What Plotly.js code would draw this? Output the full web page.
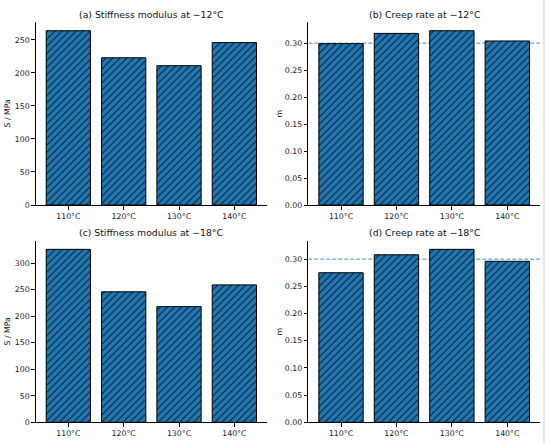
<!DOCTYPE html>
<html>
<head>
<meta charset="utf-8">
<script src="https://cdn.plot.ly/plotly-3.0.1.min.js"></script>
<style>html,body{margin:0;padding:0;background:#fff;}#chart{width:550px;height:443px;}</style>
</head>
<body>
<div id="chart"></div>
<script>
const categories = ['110°C', '120°C', '130°C', '140°C'];
const stiffness12 = [264, 223, 211, 246];
const creep12 = [0.299, 0.318, 0.323, 0.304];
const stiffness18 = [326, 246, 218, 259];
const creep18 = [0.275, 0.308, 0.318, 0.296];
const creepLimit = 0.30;
const panelTitles = ['(a) Stiffness modulus at \u221212°C', '(b) Creep rate at \u221212°C',
                     '(c) Stiffness modulus at \u221218°C', '(d) Creep rate at \u221218°C'];
const yLabels = ['S / MPa', 'm', 'S / MPa', 'm'];

const W = 550, H = 443;
const FONT = 'DejaVu Sans, sans-serif';
const px = v => v / W;
const py = v => 1 - v / H;

function barTrace(vals, xa, ya) {
  return {
    type: 'bar', x: categories, y: vals, xaxis: xa, yaxis: ya, width: 0.8,
    marker: {
      color: '#1f77b4',
      line: {color: '#000', width: 1},
      pattern: {shape: '/', fgcolor: '#101820', bgcolor: '#1f77b4', size: 5, solidity: 0.2}
    },
    hoverinfo: 'skip', showlegend: false
  };
}

const data = [
  barTrace(stiffness12, 'x', 'y'),
  barTrace(creep12, 'x2', 'y2'),
  barTrace(stiffness18, 'x3', 'y3'),
  barTrace(creep18, 'x4', 'y4')
];

const colsX = [[35.7, 267], [308.3, 540]];
const rowsY = [[22, 205], [240.7, 422.3]];

function xaxis(col, anchor) {
  return {
    domain: [px(colsX[col][0]), px(colsX[col][1])], anchor: anchor,
    type: 'category', range: [-0.59, 3.59],
    showline: true, linecolor: '#000', linewidth: 1, mirror: false,
    ticks: 'outside', ticklen: 3.5, tickwidth: 1, tickcolor: '#000',
    showgrid: false, zeroline: false,
    tickfont: {family: FONT, size: 7.8, color: '#1a1a1a'}, fixedrange: true
  };
}
function yaxis(row, anchor, max, dtick, fmt) {
  return {
    domain: [py(rowsY[row][1]), py(rowsY[row][0])], anchor: anchor,
    range: [0, max], dtick: dtick, tick0: 0, tickformat: fmt,
    showline: true, linecolor: '#000', linewidth: 1, mirror: false,
    ticks: 'outside', ticklen: 3.5, tickwidth: 1, tickcolor: '#000',
    showgrid: false, zeroline: false,
    tickfont: {family: FONT, size: 7.8, color: '#1a1a1a'}, fixedrange: true
  };
}

const maxOf = a => Math.max.apply(null, a) * 1.05;

const annotations = [];
const titlePos = [[0, 0, 14.7], [1, 0, 14.7], [0, 1, 232], [1, 1, 232]];
titlePos.forEach((p, i) => {
  const cx = (colsX[p[0]][0] + colsX[p[0]][1]) / 2;
  annotations.push({
    text: panelTitles[i], xref: 'paper', yref: 'paper',
    x: px(cx), y: py(p[2]), xanchor: 'center', yanchor: 'middle',
    showarrow: false, font: {family: FONT, size: 9.3, color: '#111'}
  });
  const lx = p[0] === 0 ? 7 : 279;
  const cy = (rowsY[p[1]][0] + rowsY[p[1]][1]) / 2;
  annotations.push({
    text: yLabels[i], xref: 'paper', yref: 'paper',
    x: px(lx), y: py(cy), xanchor: 'center', yanchor: 'middle', textangle: -90,
    showarrow: false, font: {family: FONT, size: 7.8, color: '#111'}
  });
});

const shapes = [
  {type: 'line', xref: 'x2 domain', yref: 'y2', x0: 0, x1: 1, y0: creepLimit, y1: creepLimit,
   line: {color: '#3d8fd1', width: 1, dash: '4px,2px'}, layer: 'below'},
  {type: 'line', xref: 'x4 domain', yref: 'y4', x0: 0, x1: 1, y0: creepLimit, y1: creepLimit,
   line: {color: '#3d8fd1', width: 1, dash: '4px,2px'}, layer: 'below'},
  {type: 'line', xref: 'paper', yref: 'paper', x0: px(544), x1: px(544), y0: 0, y1: 1,
   line: {color: '#d0d0d0', width: 1}}
];

const layout = {
  width: W, height: H,
  margin: {l: 0, r: 0, t: 0, b: 0},
  paper_bgcolor: '#fff', plot_bgcolor: '#fff',
  showlegend: false, bargap: 0,
  xaxis: xaxis(0, 'y'), yaxis: yaxis(0, 'x', maxOf(stiffness12), 50, 'd'),
  xaxis2: xaxis(1, 'y2'), yaxis2: yaxis(0, 'x2', maxOf(creep12), 0.05, '.2f'),
  xaxis3: xaxis(0, 'y3'), yaxis3: yaxis(1, 'x3', maxOf(stiffness18), 50, 'd'),
  xaxis4: xaxis(1, 'y4'), yaxis4: yaxis(1, 'x4', maxOf(creep18), 0.05, '.2f'),
  annotations: annotations, shapes: shapes
};

Plotly.newPlot('chart', data, layout, {displayModeBar: false, staticPlot: true});
</script>
</body>
</html>
